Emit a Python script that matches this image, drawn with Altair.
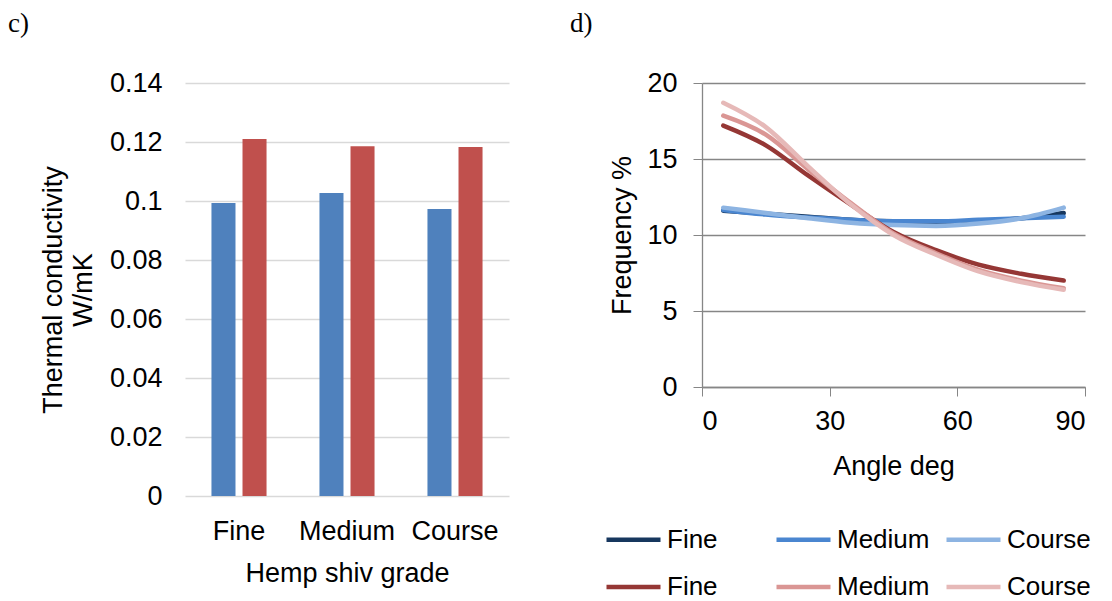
import altair as alt
import pandas as pd

# ---------------- data ----------------
grades = ["Fine", "Medium", "Course"]
conductivity_blue = [0.0993, 0.1027, 0.0973]
conductivity_red = [0.1210, 0.1186, 0.1183]
y_ticks_left = [0, 0.02, 0.04, 0.06, 0.08, 0.1, 0.12, 0.14]

angles = [5, 15, 25, 35, 45, 55, 65, 75, 85]
fine_blue = [11.6, 11.4, 11.2, 11.0, 10.9, 10.85, 10.9, 11.1, 11.45]
medium_blue = [11.65, 11.35, 11.15, 11.0, 10.9, 10.9, 11.0, 11.1, 11.2]
course_blue = [11.8, 11.45, 11.1, 10.8, 10.65, 10.6, 10.75, 11.1, 11.8]
fine_red = [17.2, 15.9, 13.9, 12.0, 10.2, 9.0, 8.05, 7.45, 7.0]
medium_red = [17.85, 16.6, 14.3, 12.1, 10.1, 8.8, 7.7, 7.0, 6.5]
course_red = [18.7, 17.1, 14.5, 12.0, 10.0, 8.7, 7.6, 6.9, 6.4]
x_ticks_right = [0, 30, 60, 90]
y_ticks_right = [0, 5, 10, 15, 20]

series_ids = ["Fine (b)", "Medium (b)", "Course (b)", "Fine (r)", "Medium (r)", "Course (r)"]
series_colors = ["#17375E", "#4A86D0", "#8DB4E2", "#953735", "#DA9694", "#E6B9B8"]
# legend fills column by column: order so that rows read blue / red
legend_order = ["Fine (b)", "Fine (r)", "Medium (b)", "Medium (r)", "Course (b)", "Course (r)"]
panel_labels = ["c)", "d)"]

FONT = "Liberation Sans"
SERIF = "Liberation Serif"
FS = 27

# ---------------- tables ----------------
bar_rows = []
for g, b, r in zip(grades, conductivity_blue, conductivity_red):
    bar_rows.append({"grade": g, "bar_series": "S1", "value": b})
    bar_rows.append({"grade": g, "bar_series": "S2", "value": r})
bars_df = pd.DataFrame(bar_rows)

line_rows = []
for sid, vals in zip(series_ids, [fine_blue, medium_blue, course_blue, fine_red, medium_red, course_red]):
    for a, v in zip(angles, vals):
        line_rows.append({"angle": a, "series": sid, "freq": v, "ord": series_ids.index(sid)})
lines_df = pd.DataFrame(line_rows)

color_map = dict(zip(series_ids, series_colors))
legend_colors = [color_map[s] for s in legend_order]

# ---------------- left panel ----------------
bars = alt.Chart(bars_df).mark_bar().encode(
    x=alt.X("grade:N", sort=grades,
            scale=alt.Scale(paddingInner=0.49, paddingOuter=0.245),
            axis=alt.Axis(title="Hemp shiv grade", labelAngle=0, domain=False, ticks=False,
                          labelPadding=22, titlePadding=16, labelFont=FONT, titleFont=FONT,
                          labelFontSize=FS, titleFontSize=FS, labelColor="black", titleColor="black",
                          titleFontWeight="normal")),
    xOffset=alt.XOffset("bar_series:N", scale=alt.Scale(paddingInner=0.226, paddingOuter=0)),
    y=alt.Y("value:Q", scale=alt.Scale(domain=[0, 0.14], nice=False),
            axis=alt.Axis(values=y_ticks_left, format="~g", title=["Thermal conductivity", "W/mK"],
                          domain=False, ticks=False, labelPadding=23, titlePadding=12,
                          gridColor="#D9D9D9", gridWidth=1.3, labelFont=FONT, titleFont=FONT,
                          labelFontSize=FS, titleFontSize=FS, labelColor="black", titleColor="black",
                          titleFontWeight="normal", titleLineHeight=30)),
    color=alt.Color("bar_series:N", scale=alt.Scale(domain=["S1", "S2"], range=["#4F81BD", "#C0504D"]),
                    legend=None),
)

label_c = alt.Chart(pd.DataFrame({"t": [panel_labels[0]]})).mark_text(
    font=SERIF, fontSize=27, align="left", baseline="middle", color="black"
).encode(text="t:N", x=alt.value(-177), y=alt.value(-59))

left = alt.layer(bars, label_c).properties(width=324, height=413)

# ---------------- right panel ----------------
lines = alt.Chart(lines_df).mark_line(strokeWidth=4.5, interpolate="monotone", strokeCap="round").encode(
    x=alt.X("angle:Q", scale=alt.Scale(domain=[0, 90], nice=False),
            axis=alt.Axis(values=x_ticks_right, title="Angle deg", grid=False,
                          domainColor="#868686", tickColor="#868686", tickSize=9, domainWidth=1.3,
                          labelPadding=12, titlePadding=19, labelFont=FONT, titleFont=FONT,
                          labelFontSize=FS, titleFontSize=FS, labelColor="black", titleColor="black",
                          titleFontWeight="normal")),
    y=alt.Y("freq:Q", scale=alt.Scale(domain=[0, 20], nice=False),
            axis=alt.Axis(values=y_ticks_right, title="Frequency %",
                          domainColor="#868686", tickColor="#868686", tickSize=9, domainWidth=1.3,
                          gridColor="#868686", gridWidth=1.3,
                          labelPadding=16, titlePadding=10, labelFont=FONT, titleFont=FONT,
                          labelFontSize=FS, titleFontSize=FS, labelColor="black", titleColor="black",
                          titleFontWeight="normal")),
    color=alt.Color("series:N", sort=legend_order,
                    scale=alt.Scale(domain=legend_order, range=legend_colors),
                    legend=alt.Legend(title=None, orient="none", legendX=-98, legendY=427,
                                      columns=3, gridAlign="all", symbolType="stroke",
                                      symbolSize=2916, symbolStrokeWidth=4.5, labelOffset=4,
                                      labelFont=FONT, labelFontSize=26, labelColor="black",
                                      columnPadding=7, rowPadding=4.5,
                                      labelExpr="split(datum.label, ' ')[0]")),
    order=alt.Order("ord:Q"),
)

label_d = alt.Chart(pd.DataFrame({"t": [panel_labels[1]]})).mark_text(
    font=SERIF, fontSize=27, align="left", baseline="middle", color="black"
).encode(text="t:N", x=alt.value(-132), y=alt.value(-59))

right = alt.layer(lines, label_d).properties(width=383, height=304)

chart = (alt.hconcat(left, right, spacing=61)
         .resolve_scale(color="independent")
         .properties(padding={"top": 2, "left": 0, "right": 0, "bottom": 0})
         .configure_view(stroke=None))

chart.save("out.html", embed_options={"renderer": "svg", "actions": False})
